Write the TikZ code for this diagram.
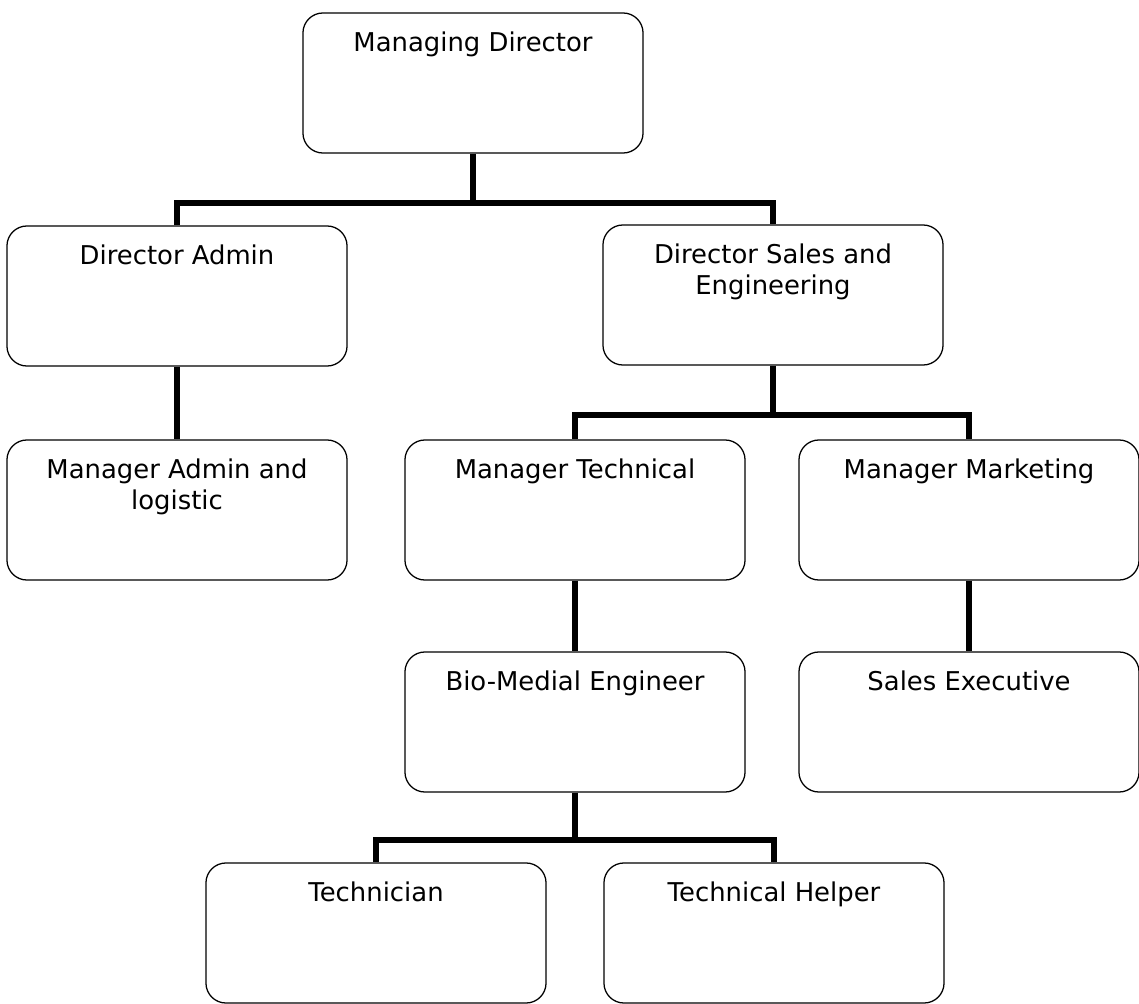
\documentclass[tikz,border=0pt]{standalone}
\usepackage{fontspec}
\setmainfont{DejaVu Sans}

\begin{document}
\begin{tikzpicture}[
    x=0.025cm, y=-0.025cm,
    post/.style={rectangle, draw, rounded corners=0.5cm, line width=0.9pt, inner xsep=0pt, inner ysep=0.48cm,
        font=\fontsize{18.4}{22}\selectfont,
        execute at begin node={\begin{minipage}[t][2.54cm][t]{8.5cm}\centering},
        execute at end node={\end{minipage}}},
    link/.style={line width=4pt}
]
    \useasboundingbox (0,0) rectangle (1139,1004);

    \node[post] (md) at (473,83) {Managing Director};
    \node[post] (da) at (177,296) {Director Admin};
    \node[post] (dse) at (773,295) {Director Sales and\\Engineering};
    \node[post] (mal) at (177,510) {Manager Admin and\\logistic};
    \node[post] (mt) at (575,510) {Manager Technical};
    \node[post] (mm) at (969,510) {Manager Marketing};
    \node[post] (bme) at (575,722) {Bio-Medial Engineer};
    \node[post] (se) at (969,722) {Sales Executive};
    \node[post] (tech) at (376,933) {Technician};
    \node[post] (th) at (774,933) {Technical Helper};

    % branch points
    \coordinate (bus1) at (473,203);
    \coordinate (bus2) at (773,415);
    \coordinate (bus3) at (575,840);

    \draw[link] (md) -- (bus1) -| (da);
    \draw[link] (bus1) -| (dse);
    \draw[link] (da) -- (mal);
    \draw[link] (dse) -- (bus2) -| (mt);
    \draw[link] (bus2) -| (mm);
    \draw[link] (mt) -- (bme);
    \draw[link] (mm) -- (se);
    \draw[link] (bme) -- (bus3) -| (tech);
    \draw[link] (bus3) -| (th);
\end{tikzpicture}
\end{document}
